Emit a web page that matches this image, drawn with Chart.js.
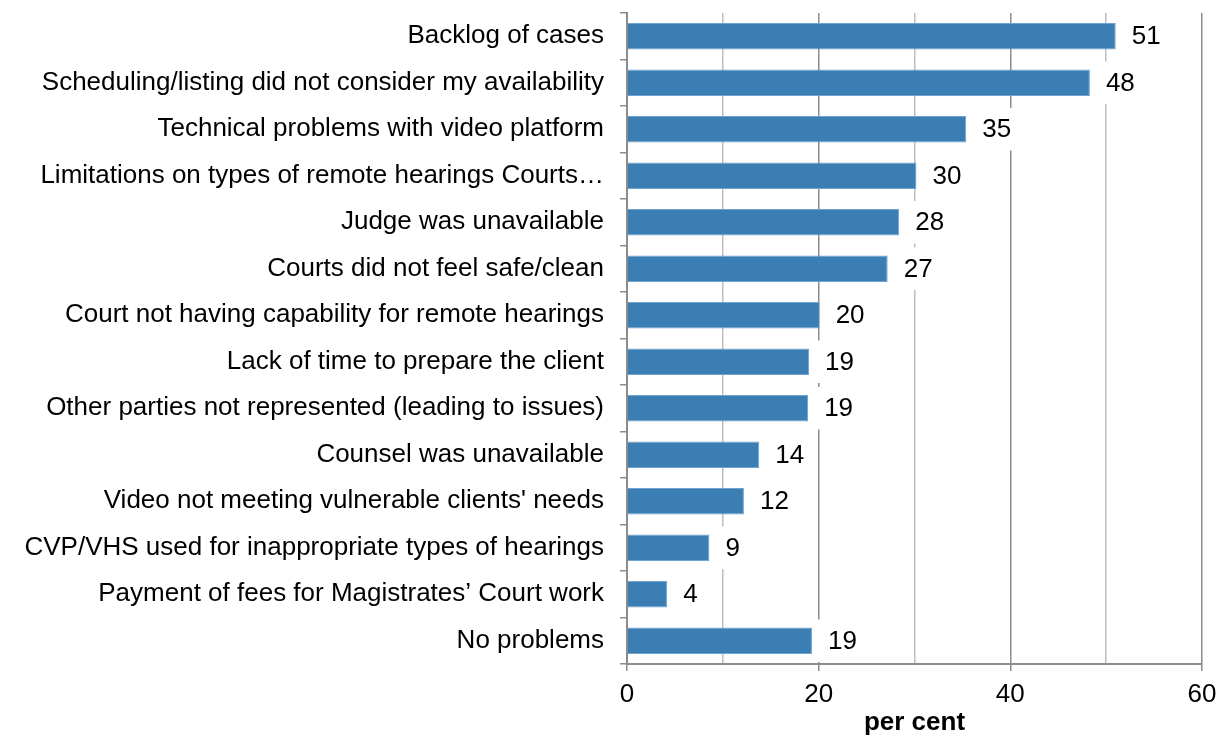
<!DOCTYPE html>
<html>
<head>
<meta charset="utf-8">
<script src="https://cdn.jsdelivr.net/npm/chart.js@4.4.0/dist/chart.umd.min.js"></script>
<style>
html,body{margin:0;padding:0;background:#fff;}
#wrap{width:1227px;height:736px;position:relative;}
</style>
</head>
<body>
<div id="wrap"><canvas id="c" width="1227" height="736"></canvas></div>
<script>
const categories = [
  "Backlog of cases",
  "Scheduling/listing did not consider my availability",
  "Technical problems with video platform",
  "Limitations on types of remote hearings Courts\u2026",
  "Judge was unavailable",
  "Courts did not feel safe/clean",
  "Court not having capability for remote hearings",
  "Lack of time to prepare the client",
  "Other parties not represented (leading to issues)",
  "Counsel was unavailable",
  "Video not meeting vulnerable clients' needs",
  "CVP/VHS used for inappropriate types of hearings",
  "Payment of fees for Magistrates\u2019 Court work",
  "No problems"
];
const values = [51.0, 48.3, 35.4, 30.2, 28.4, 27.2, 20.1, 19.0, 18.9, 13.8, 12.2, 8.6, 4.2, 19.3];
const shownLabels = [51, 48, 35, 30, 28, 27, 20, 19, 19, 14, 12, 9, 4, 19];
const xTicks = [0, 20, 40, 60];
const axisTitle = "per cent";

const FONT = "'Liberation Sans', Arial, sans-serif";
const FS = 26;

const valueLabels = {
  id: 'valueLabels',
  afterDatasetsDraw(chart) {
    const ctx = chart.ctx;
    const meta = chart.getDatasetMeta(0);
    const yScale = chart.scales.y;
    const band = (yScale.getPixelForValue(1) - yScale.getPixelForValue(0));
    ctx.save();
    ctx.font = FS + "px " + FONT;
    ctx.textBaseline = 'middle';
    ctx.textAlign = 'left';
    meta.data.forEach((bar, i) => {
      const txt = String(shownLabels[i]);
      const w = ctx.measureText(txt).width;
      const x0 = bar.x + 3;
      const tx = bar.x + 16;
      ctx.fillStyle = '#ffffff';
      ctx.fillRect(x0, bar.y - band / 2 + 2, (tx + w + 4) - x0, band - 4);
      ctx.fillStyle = '#000000';
      ctx.fillText(txt, tx, bar.y + 1);
    });
    ctx.restore();
  }
};

new Chart(document.getElementById('c'), {
  type: 'bar',
  data: {
    labels: categories,
    datasets: [{
      data: values,
      backgroundColor: '#3A7EB3',
      borderColor: '#6FA3D0',
      borderWidth: 1,
      categoryPercentage: 1,
      barPercentage: 0.57
    }]
  },
  options: {
    indexAxis: 'y',
    responsive: false,
    animation: false,
    layout: { padding: { top: 13, right: 25, left: 0, bottom: 0 } },
    plugins: { legend: { display: false }, tooltip: { enabled: false } },
    scales: {
      x: {
        min: 0, max: 60,
        afterBuildTicks(scale) {
          const t = [];
          for (let v = 0; v <= 60; v += 10) t.push({ value: v });
          scale.ticks = t;
        },
        afterFit(scale) { scale.height = 72; scale.paddingLeft = 0; scale.paddingRight = 0; },
        border: { display: true, color: '#8C8C8C', width: 2 },
        grid: {
          display: true,
          drawOnChartArea: true,
          drawTicks: true,
          tickLength: 7,
          lineWidth: 1.5,
          color: (c) => (c.tick && c.tick.value % 20 === 0) ? '#8C8C8C' : '#BDBDBD',
          tickColor: (c) => (c.tick && xTicks.includes(c.tick.value)) ? '#8C8C8C' : 'rgba(0,0,0,0)'
        },
        ticks: {
          padding: 8,
          color: '#000',
          font: { size: FS, family: FONT },
          callback: (v) => xTicks.includes(v) ? String(v) : ''
        },
        title: {
          display: true,
          text: axisTitle,
          color: '#000',
          font: { size: FS, weight: 'bold', family: FONT, lineHeight: 1 },
          padding: { top: 0, bottom: 0 }
        }
      },
      y: {
        afterFit(scale) { scale.width = 627; scale.paddingTop = 0; scale.paddingBottom = 0; },
        border: { display: true, color: '#8C8C8C', width: 2 },
        grid: {
          display: true,
          offset: true,
          drawOnChartArea: false,
          drawTicks: true,
          tickLength: 7,
          color: '#8C8C8C',
          lineWidth: 1.5
        },
        ticks: {
          padding: 16,
          color: '#000',
          autoSkip: false,
          font: { size: FS, family: FONT }
        }
      }
    }
  },
  plugins: [valueLabels]
});
</script>
</body>
</html>
